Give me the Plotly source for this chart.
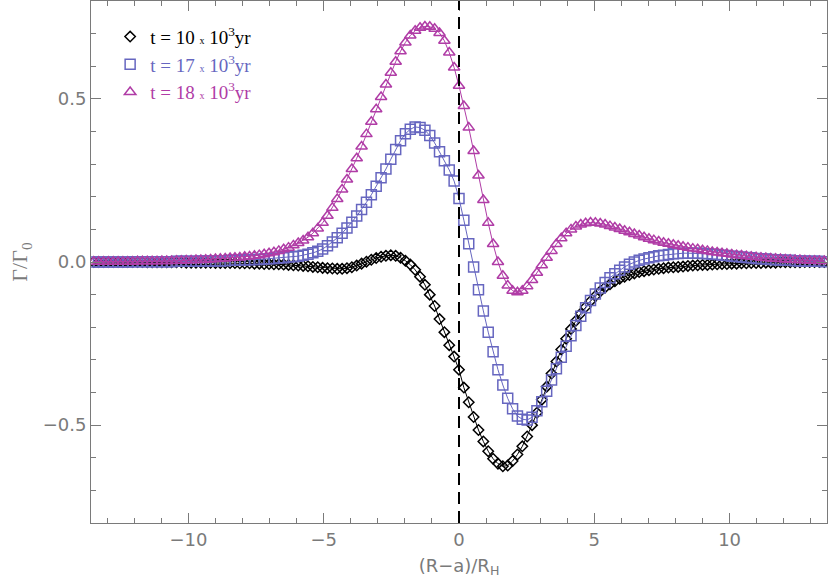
import plotly.graph_objects as go

# sample positions (R-a)/R_H
X = [
    -13.5, -13.32, -13.14, -12.96, -12.78, -12.6, -12.42, -12.24, -12.06, -11.88,
    -11.7, -11.52, -11.34, -11.16, -10.98, -10.8, -10.62, -10.44, -10.26, -10.08,
    -9.9, -9.72, -9.54, -9.36, -9.18, -9.0, -8.82, -8.64, -8.46, -8.28,
    -8.1, -7.92, -7.74, -7.56, -7.38, -7.2, -7.02, -6.84, -6.66, -6.48,
    -6.3, -6.12, -5.94, -5.76, -5.58, -5.4, -5.22, -5.04, -4.86, -4.68,
    -4.5, -4.32, -4.14, -3.96, -3.78, -3.6, -3.42, -3.24, -3.06, -2.88,
    -2.7, -2.52, -2.34, -2.16, -1.98, -1.8, -1.62, -1.44, -1.26, -1.08,
    -0.9, -0.72, -0.54, -0.36, -0.18, 0.0, 0.18, 0.36, 0.54, 0.72,
    0.9, 1.08, 1.26, 1.44, 1.62, 1.8, 1.98, 2.16, 2.34, 2.52,
    2.7, 2.88, 3.06, 3.24, 3.42, 3.6, 3.78, 3.96, 4.14, 4.32,
    4.5, 4.68, 4.86, 5.04, 5.22, 5.4, 5.58, 5.76, 5.94, 6.12,
    6.3, 6.48, 6.66, 6.84, 7.02, 7.2, 7.38, 7.56, 7.74, 7.92,
    8.1, 8.28, 8.46, 8.64, 8.82, 9.0, 9.18, 9.36, 9.54, 9.72,
    9.9, 10.08, 10.26, 10.44, 10.62, 10.8, 10.98, 11.16, 11.34, 11.52,
    11.7, 11.88, 12.06, 12.24, 12.42, 12.6, 12.78, 12.96, 13.14, 13.32,
    13.5,
]

# Gamma / Gamma_0 at t = 10e3 yr
G_T10 = [
    0.000, 0.000, 0.000, 0.000, 0.000, 0.000, 0.000, 0.000, 0.000, 0.000,
    0.000, -0.001, -0.001, -0.001, -0.001, -0.001, -0.001, -0.001, -0.001, -0.002,
    -0.002, -0.002, -0.002, -0.002, -0.002, -0.003, -0.003, -0.003, -0.003, -0.003,
    -0.004, -0.004, -0.004, -0.005, -0.005, -0.006, -0.006, -0.007, -0.007, -0.008,
    -0.009, -0.010, -0.011, -0.012, -0.013, -0.015, -0.016, -0.018, -0.019, -0.020,
    -0.021, -0.021, -0.019, -0.016, -0.011, -0.005, 0.001, 0.007, 0.012, 0.016,
    0.019, 0.021, 0.019, 0.013, 0.004, -0.008, -0.024, -0.045, -0.070, -0.100,
    -0.135, -0.175, -0.215, -0.255, -0.290, -0.330, -0.385, -0.430, -0.475, -0.515,
    -0.550, -0.580, -0.603, -0.618, -0.626, -0.624, -0.610, -0.590, -0.565, -0.535,
    -0.500, -0.462, -0.422, -0.382, -0.342, -0.305, -0.268, -0.235, -0.205, -0.180,
    -0.158, -0.138, -0.120, -0.104, -0.090, -0.078, -0.068, -0.059, -0.051, -0.045,
    -0.040, -0.035, -0.031, -0.028, -0.025, -0.023, -0.021, -0.019, -0.017, -0.016,
    -0.015, -0.014, -0.012, -0.011, -0.010, -0.009, -0.009, -0.008, -0.007, -0.006,
    -0.006, -0.005, -0.005, -0.004, -0.004, -0.003, -0.003, -0.003, -0.002, -0.002,
    -0.002, -0.001, -0.001, -0.001, -0.001, -0.001, 0.000, 0.000, 0.000, 0.000,
    0.000,
]

# t = 17e3 yr
G_T17 = [
    0.000, 0.000, 0.000, 0.000, 0.000, 0.000, 0.000, 0.000, 0.001, 0.001,
    0.001, 0.001, 0.001, 0.001, 0.001, 0.001, 0.001, 0.002, 0.002, 0.002,
    0.002, 0.002, 0.003, 0.003, 0.003, 0.003, 0.004, 0.004, 0.005, 0.005,
    0.006, 0.006, 0.007, 0.008, 0.008, 0.009, 0.010, 0.011, 0.012, 0.013,
    0.015, 0.016, 0.018, 0.021, 0.024, 0.028, 0.033, 0.040, 0.050, 0.061,
    0.074, 0.088, 0.104, 0.122, 0.141, 0.161, 0.183, 0.206, 0.232, 0.258,
    0.285, 0.315, 0.345, 0.372, 0.393, 0.407, 0.414, 0.412, 0.404, 0.388,
    0.365, 0.338, 0.310, 0.282, 0.248, 0.195, 0.128, 0.056, -0.015, -0.085,
    -0.150, -0.215, -0.275, -0.330, -0.377, -0.418, -0.450, -0.472, -0.482, -0.484,
    -0.476, -0.456, -0.428, -0.396, -0.362, -0.327, -0.292, -0.258, -0.226, -0.195,
    -0.166, -0.140, -0.118, -0.098, -0.080, -0.063, -0.048, -0.036, -0.025, -0.015,
    -0.007, 0.000, 0.005, 0.009, 0.013, 0.016, 0.019, 0.021, 0.023, 0.025,
    0.026, 0.027, 0.027, 0.027, 0.027, 0.026, 0.025, 0.024, 0.023, 0.021,
    0.020, 0.018, 0.017, 0.015, 0.014, 0.013, 0.011, 0.010, 0.009, 0.008,
    0.007, 0.006, 0.005, 0.005, 0.004, 0.003, 0.003, 0.002, 0.002, 0.002,
    0.001,
]

# t = 18e3 yr
G_T18 = [
    0.001, 0.001, 0.001, 0.001, 0.001, 0.001, 0.001, 0.001, 0.001, 0.002,
    0.002, 0.002, 0.002, 0.002, 0.003, 0.003, 0.003, 0.004, 0.004, 0.005,
    0.005, 0.006, 0.006, 0.007, 0.008, 0.009, 0.010, 0.011, 0.012, 0.013,
    0.014, 0.016, 0.017, 0.019, 0.021, 0.024, 0.027, 0.030, 0.034, 0.039,
    0.044, 0.051, 0.058, 0.066, 0.076, 0.088, 0.103, 0.120, 0.142, 0.166,
    0.193, 0.222, 0.253, 0.285, 0.318, 0.354, 0.392, 0.430, 0.468, 0.506,
    0.544, 0.580, 0.614, 0.646, 0.673, 0.694, 0.709, 0.718, 0.722, 0.721,
    0.715, 0.702, 0.678, 0.642, 0.596, 0.540, 0.478, 0.412, 0.340, 0.265,
    0.190, 0.120, 0.055, 0.000, -0.042, -0.072, -0.088, -0.093, -0.088, -0.074,
    -0.055, -0.033, -0.010, 0.013, 0.034, 0.055, 0.073, 0.088, 0.100, 0.109,
    0.115, 0.119, 0.121, 0.120, 0.118, 0.115, 0.110, 0.106, 0.101, 0.096,
    0.091, 0.086, 0.081, 0.076, 0.071, 0.067, 0.063, 0.059, 0.056, 0.053,
    0.050, 0.047, 0.044, 0.041, 0.039, 0.036, 0.034, 0.031, 0.029, 0.027,
    0.025, 0.023, 0.021, 0.020, 0.018, 0.016, 0.015, 0.013, 0.012, 0.011,
    0.010, 0.009, 0.008, 0.007, 0.006, 0.006, 0.005, 0.004, 0.004, 0.003,
    0.003,
]

SERIES = [
    ("10", G_T10, "#000000", "diamond-open", 8),
    ("17", G_T17, "#6666c0", "square-open", 10),
    ("18", G_T18, "#b03ca6", "triangle-up-open", 10),
]

AXIS_GREY = "#7a7a7a"

fig = go.Figure()
for t_label, g, color, symbol, size in SERIES:
    # thin connecting line, kept out of the legend
    fig.add_trace(go.Scatter(x=X, y=g, mode="lines", showlegend=False,
                             line=dict(color=color, width=1), hoverinfo="skip"))
    name = (f"<span style='color:{color}'>t = {t_label} "
            f"<span style='font-size:10px'>x</span> 10<sup>3</sup>yr</span>")
    fig.add_trace(go.Scatter(
        x=X, y=g, mode="markers", name=name,
        marker=dict(symbol=symbol, size=size, color=color,
                    line=dict(color=color, width=1.5)),
    ))

# planet location
fig.add_shape(type="line", x0=0, x1=0, y0=0, y1=1, xref="x", yref="paper",
              line=dict(color="black", width=2, dash="12px,7px"))

axis_common = dict(
    showline=True, linecolor=AXIS_GREY, linewidth=1, mirror="allticks",
    ticks="inside", ticklen=10, tickcolor=AXIS_GREY, showgrid=False,
    zeroline=False, tickfont=dict(family="DejaVu Sans", size=18, color=AXIS_GREY),
)

fig.update_xaxes(
    range=[-13.6, 13.6], dtick=5, tick0=0,
    minor=dict(dtick=1, ticks="inside", ticklen=5, tickcolor=AXIS_GREY),
    title=dict(text="(R−a)/R<sub>H</sub>", standoff=10,
               font=dict(family="DejaVu Sans", size=18, color=AXIS_GREY)),
    **axis_common,
)
fig.update_yaxes(
    range=[-0.8, 0.8], dtick=0.5, tick0=0, tickformat=".1f",
    minor=dict(dtick=0.1, ticks="inside", ticklen=5, tickcolor=AXIS_GREY),
    title=dict(text="Γ/Γ<sub>0</sub>", standoff=8,
               font=dict(family="Liberation Serif", size=22, color=AXIS_GREY)),
    **axis_common,
)

fig.update_layout(
    width=830, height=585,
    margin=dict(l=91, r=3, t=1, b=62),
    paper_bgcolor="white", plot_bgcolor="white",
    legend=dict(x=0.026, y=0.968, xanchor="left", yanchor="top",
                bgcolor="rgba(0,0,0,0)", borderwidth=0,
                font=dict(family="Liberation Serif", size=19, color="black"),
                itemwidth=30, tracegroupgap=0),
)

# drop the default page margin so the figure sits at the window corner
fig.write_html("out.html", config={"displayModeBar": False},
               post_script="document.body.style.margin='0px';")
